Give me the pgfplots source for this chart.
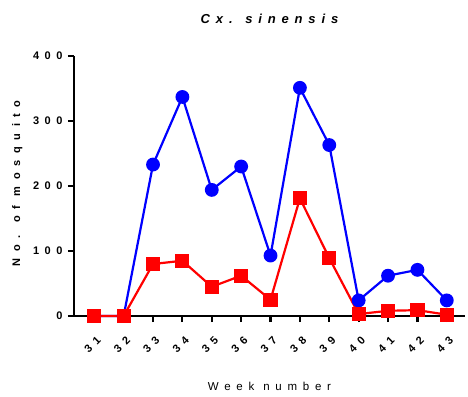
\documentclass[border=0pt]{standalone}
\usepackage{pgfplots}
\pgfplotsset{compat=1.18}
\usepackage{fontspec}
\setmainfont{Liberation Sans}
\newfontfamily\tickfont[LetterSpace=50]{Liberation Sans}
\newfontfamily\ylabfont[LetterSpace=60]{Liberation Sans}
\newfontfamily\xlabfont[LetterSpace=50]{Liberation Sans}
\newfontfamily\titfont[LetterSpace=45]{Liberation Sans}
\definecolor{myblue}{RGB}{0,0,255}
\definecolor{myred}{RGB}{255,0,0}
\begin{document}
\begin{tikzpicture}[x=1pt,y=1pt]
\begin{axis}[
  at={(0pt,0pt)}, anchor=origin,
  scale only axis,
  width=391pt, height=260pt,
  xmin=30.31, xmax=43.62,
  ymin=0, ymax=400,
  axis x line*=bottom, axis y line*=left,
  axis line style={line width=2.4pt,-},
  xtick={31,...,43},
  ytick={0,100,200,300,400},
  tick style={line width=2.2pt,black},
  tick align=outside,
  major tick length=6pt,
  /pgf/number format/assume math mode=true,
  yticklabel style={font=\tickfont\bfseries\fontsize{11}{13}\selectfont, xshift=-2pt},
  xticklabel style={font=\tickfont\bfseries\fontsize{11}{13}\selectfont, rotate=45, anchor=east, xshift=-5pt, yshift=-15pt},
  ylabel={No. of mosquito},
  ylabel style={font=\ylabfont\bfseries\fontsize{11}{13}\selectfont, at={(axis description cs:-0.145,0.51)}, anchor=center},
  xlabel={Week number},
  xlabel style={font=\xlabfont\fontsize{11.5}{13}\selectfont, at={(axis description cs:0.5,0)}, anchor=base, yshift=-74pt},
  title={\itshape Cx. sinensis},
  title style={font=\titfont\bfseries\fontsize{13}{15}\selectfont, at={(axis description cs:0.5,1)}, anchor=base, yshift=26pt},
  clip=false,
]
\addplot[myblue, line width=2.2pt, mark=*, mark size=5.8pt, mark options={solid}] coordinates {
(31,0) (32,0) (33,233) (34,337) (35,194) (36,230) (37,93) (38,351) (39,263) (40,24) (41,62) (42,71) (43,24)
};
\addplot[myred, line width=2.2pt, mark=square*, mark size=6pt, mark options={solid}] coordinates {
(31,0) (32,0) (33,80) (34,85) (35,45) (36,62) (37,25) (38,181) (39,89) (40,3) (41,8) (42,9) (43,2)
};
\end{axis}
\pgfresetboundingbox
\path[use as bounding box] (-74pt,-80pt) rectangle (394pt,316pt);
\end{tikzpicture}
\end{document}
